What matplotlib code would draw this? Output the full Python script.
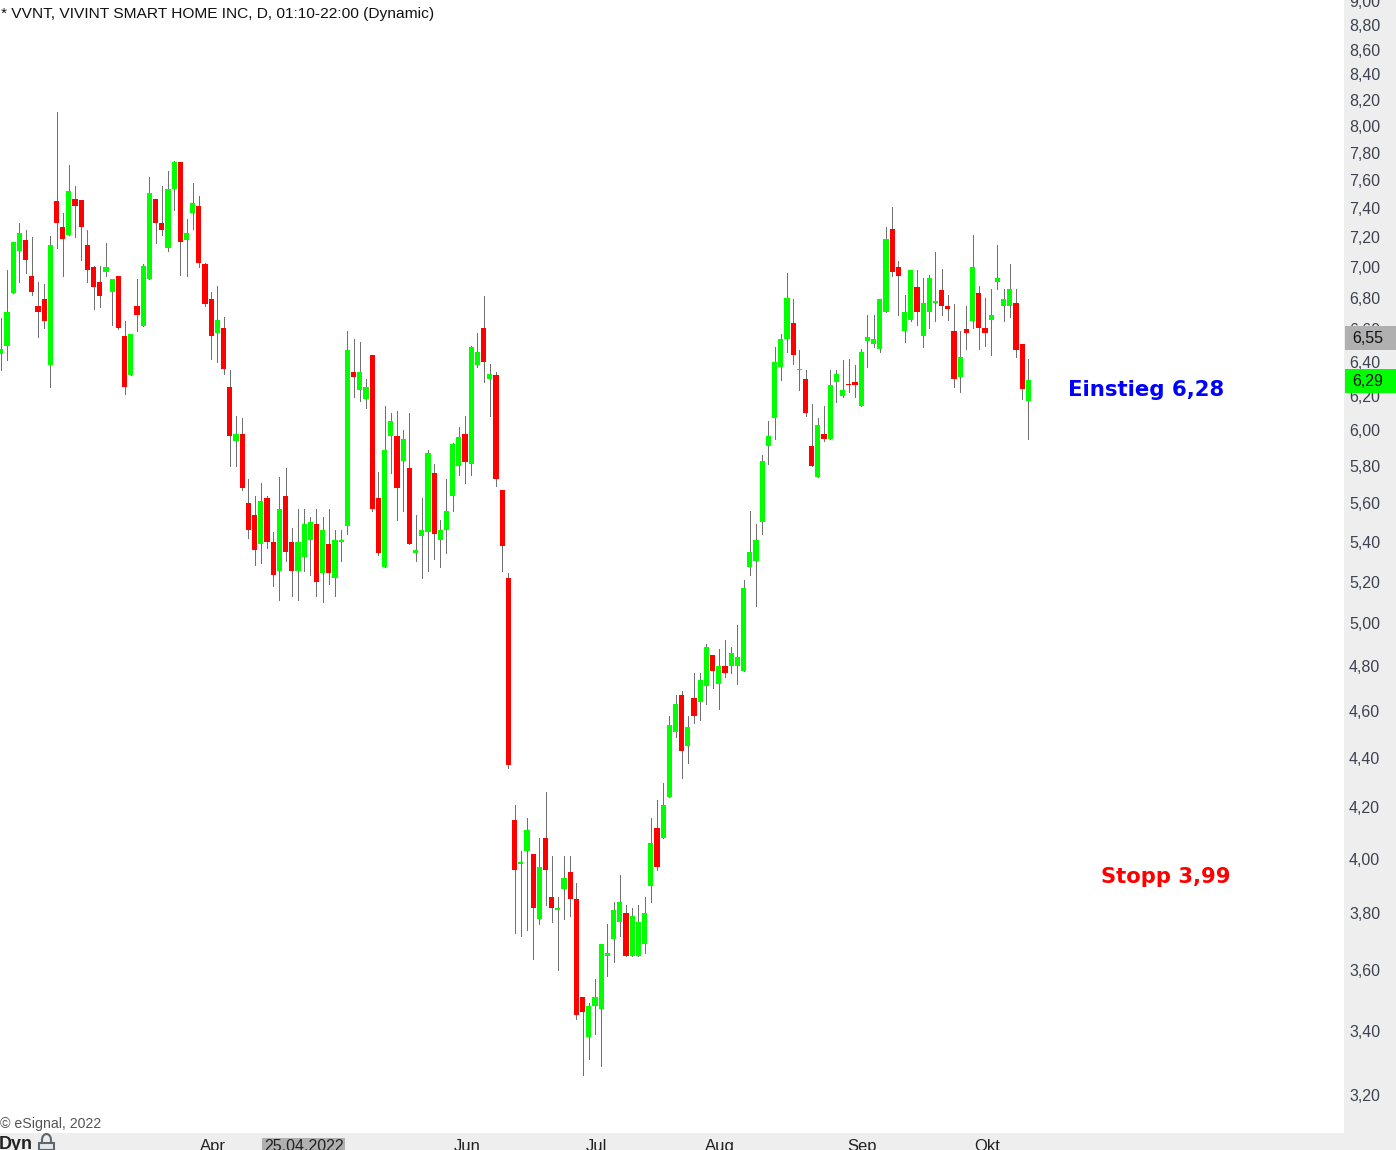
"""VVNT daily candles (eSignal style), log price axis, saved as out.png."""
import numpy as np
import matplotlib
matplotlib.use('Agg')
import matplotlib.pyplot as plt
from matplotlib.patches import Rectangle, Arc
from matplotlib.transforms import blended_transform_factory

plt.rcParams['font.family'] = ['Liberation Sans', 'DejaVu Sans']

opens = [6.45, 6.50, 6.83, 7.11, 7.18, 6.94, 6.75, 6.79, 6.38, 7.45,
         7.27, 7.22, 7.47, 7.46, 7.15, 7.00, 6.90, 6.97, 6.84, 6.94,
         6.56, 6.32, 6.75, 6.62, 6.92, 7.47, 7.30, 7.13, 7.54, 7.73,
         7.18, 7.37, 7.42, 7.02, 6.79, 6.58, 6.61, 6.25, 5.94, 5.98,
         5.60, 5.54, 5.39, 5.63, 5.40, 5.25, 5.64, 5.40, 5.25, 5.32,
         5.41, 5.49, 5.24, 5.39, 5.22, 5.40, 5.48, 6.34, 6.23, 6.18,
         6.44, 5.63, 5.27, 5.97, 5.97, 5.83, 5.79, 5.34, 5.43, 5.45,
         5.76, 5.41, 5.46, 5.64, 5.80, 5.98, 5.81, 6.38, 6.61, 6.30,
         6.32, 5.67, 5.22, 4.15, 3.98, 4.03, 4.02, 3.78, 4.08, 3.86,
         3.81, 3.89, 3.95, 3.85, 3.51, 3.38, 3.48, 3.47, 3.65, 3.71,
         3.77, 3.80, 3.65, 3.65, 3.69, 3.90, 4.12, 4.08, 4.24, 4.51,
         4.67, 4.45, 4.66, 4.64, 4.71, 4.85, 4.72, 4.80, 4.80, 4.80,
         4.78, 5.27, 5.30, 5.50, 5.91, 6.07, 6.37, 6.54, 6.64, 6.35,
         6.30, 5.91, 5.74, 5.98, 5.95, 6.28, 6.20, 6.27, 6.28, 6.14,
         6.53, 6.51, 6.48, 6.71, 7.26, 7.00, 6.59, 6.66, 6.87, 6.56,
         6.71, 6.77, 6.85, 6.75, 6.59, 6.31, 6.60, 6.65, 6.83, 6.61,
         6.66, 6.90, 6.75, 6.75, 6.77, 6.51, 6.17]
closes = [6.48, 6.71, 7.17, 7.23, 7.05, 6.84, 6.71, 6.65, 7.15, 7.30,
          7.19, 7.52, 7.42, 7.27, 6.98, 6.87, 6.81, 7.00, 6.92, 6.61,
          6.25, 6.57, 6.69, 7.01, 7.51, 7.30, 7.25, 7.54, 7.73, 7.17,
          7.23, 7.44, 7.03, 6.76, 6.56, 6.66, 6.36, 5.97, 5.98, 5.68,
          5.46, 5.36, 5.61, 5.40, 5.23, 5.57, 5.35, 5.25, 5.40, 5.49,
          5.50, 5.20, 5.46, 5.24, 5.41, 5.41, 6.47, 6.31, 6.34, 6.25,
          5.57, 5.34, 5.89, 6.05, 5.68, 5.95, 5.39, 5.36, 5.46, 5.87,
          5.44, 5.46, 5.56, 5.92, 5.96, 5.82, 6.49, 6.46, 6.40, 6.33,
          5.73, 5.38, 4.37, 3.96, 3.99, 4.11, 3.82, 3.97, 3.96, 3.82,
          3.82, 3.93, 3.85, 3.45, 3.46, 3.48, 3.51, 3.69, 3.66, 3.81,
          3.84, 3.65, 3.79, 3.77, 3.80, 4.06, 3.97, 4.21, 4.54, 4.63,
          4.43, 4.53, 4.58, 4.74, 4.89, 4.78, 4.80, 4.77, 4.86, 4.84,
          5.17, 5.35, 5.41, 5.83, 5.97, 6.40, 6.54, 6.80, 6.44, 6.36,
          6.10, 5.80, 6.03, 5.95, 6.26, 6.33, 6.23, 6.26, 6.26, 6.46,
          6.55, 6.54, 6.79, 7.19, 6.97, 6.94, 6.71, 6.98, 6.71, 6.77,
          6.93, 6.78, 6.75, 6.73, 6.30, 6.43, 6.58, 7.00, 6.61, 6.58,
          6.69, 6.93, 6.79, 6.86, 6.47, 6.24, 6.29]
highs = [6.67, 6.98, 7.17, 7.30, 7.25, 7.20, 6.90, 6.89, 7.21, 8.11,
         7.37, 7.71, 7.56, 7.46, 7.25, 7.01, 7.01, 7.16, 6.92, 6.94,
         6.65, 6.57, 6.92, 7.02, 7.62, 7.47, 7.56, 7.67, 7.74, 7.73,
         7.33, 7.58, 7.49, 7.03, 6.84, 6.88, 6.68, 6.35, 6.08, 6.07,
         5.73, 5.64, 5.71, 5.64, 5.45, 5.74, 5.79, 5.47, 5.57, 5.57,
         5.53, 5.57, 5.53, 5.57, 5.46, 5.46, 6.59, 6.54, 6.52, 6.30,
         6.44, 5.77, 6.14, 6.10, 6.11, 6.00, 6.10, 5.54, 5.63, 5.89,
         5.81, 5.51, 5.73, 5.93, 6.02, 6.08, 6.50, 6.58, 6.81, 6.39,
         6.34, 5.67, 5.24, 4.21, 4.03, 4.16, 4.02, 4.08, 4.26, 4.01,
         3.86, 4.01, 4.01, 3.91, 3.51, 3.49, 3.57, 3.69, 3.76, 3.84,
         3.94, 3.83, 3.82, 3.83, 3.86, 4.16, 4.23, 4.30, 4.58, 4.67,
         4.69, 4.58, 4.77, 4.77, 4.90, 4.85, 4.88, 4.92, 4.89, 4.99,
         5.21, 5.56, 5.49, 5.86, 6.05, 6.49, 6.57, 6.96, 6.79, 6.47,
         6.35, 6.15, 6.07, 6.14, 6.35, 6.35, 6.41, 6.42, 6.38, 6.48,
         6.69, 6.69, 6.79, 7.27, 7.41, 7.04, 6.82, 6.98, 6.98, 6.93,
         6.95, 7.10, 6.99, 6.82, 6.76, 6.59, 6.75, 7.22, 6.88, 6.80,
         6.86, 7.15, 6.86, 7.02, 6.86, 6.51, 6.42]
lows = [6.35, 6.41, 6.83, 6.90, 6.96, 6.82, 6.55, 6.61, 6.25, 7.13,
        6.94, 7.22, 7.20, 7.05, 6.90, 6.73, 6.74, 6.94, 6.63, 6.60,
        6.21, 6.32, 6.59, 6.62, 6.92, 7.16, 7.22, 7.11, 7.39, 6.95,
        6.94, 7.26, 7.00, 6.75, 6.42, 6.40, 6.33, 5.80, 5.80, 5.67,
        5.42, 5.28, 5.29, 5.37, 5.18, 5.11, 5.30, 5.13, 5.11, 5.25,
        5.23, 5.13, 5.10, 5.19, 5.13, 5.30, 5.44, 6.19, 6.17, 6.13,
        5.56, 5.33, 5.27, 5.76, 5.51, 5.56, 5.39, 5.30, 5.22, 5.25,
        5.31, 5.27, 5.34, 5.56, 5.75, 5.71, 5.75, 6.37, 6.28, 6.08,
        5.69, 5.25, 4.36, 3.73, 3.72, 3.74, 3.64, 3.76, 3.83, 3.77,
        3.60, 3.78, 3.79, 3.44, 3.26, 3.31, 3.39, 3.29, 3.58, 3.63,
        3.72, 3.65, 3.65, 3.65, 3.66, 3.84, 3.96, 4.08, 4.24, 4.49,
        4.32, 4.38, 4.55, 4.56, 4.63, 4.70, 4.61, 4.75, 4.77, 4.72,
        4.78, 5.23, 5.08, 5.44, 5.81, 5.95, 6.29, 6.46, 6.39, 6.23,
        6.08, 5.80, 5.74, 5.94, 5.95, 6.16, 6.19, 6.22, 6.19, 6.14,
        6.37, 6.49, 6.46, 6.71, 6.94, 6.69, 6.52, 6.65, 6.63, 6.49,
        6.61, 6.65, 6.69, 6.66, 6.25, 6.22, 6.48, 6.61, 6.48, 6.50,
        6.44, 6.86, 6.65, 6.68, 6.43, 6.18, 5.95]

price_ticks = [9.0, 8.8, 8.6, 8.4, 8.2, 8.0, 7.8, 7.6, 7.4, 7.2, 7.0, 6.8, 6.6, 6.4, 6.2,
               6.0, 5.8, 5.6, 5.4, 5.2, 5.0, 4.8, 4.6, 4.4, 4.2, 4.0, 3.8, 3.6, 3.4, 3.2]
month_pos = [34.2, 75.3, 96.3, 116.2, 139.1, 159.4]
month_labels = ['Apr', 'Jun', 'Jul', 'Aug', 'Sep', 'Okt']

W, H = 1396, 1150
PANEL_X, PANEL_Y = 1344, 1133   # plot area in pixels
STEP = 6.19                     # pixels per bar
K = 1057.5                      # pixels per ln(price)

def fx(x):
    return x / W

def fy(y):
    return 1 - y / H

fig = plt.figure(figsize=(W/100, H/100), dpi=100, facecolor='#eeeeee')
ax = fig.add_axes([0, fy(PANEL_Y), fx(PANEL_X), 1 - fy(PANEL_Y)], facecolor='white')
ax.set_yscale('log')
ax.set_ylim(3.2*np.exp((1095-PANEL_Y)/K), 3.2*np.exp(1095/K))
ax.set_xlim(-0.8/STEP, (PANEL_X-0.8)/STEP)

opens, closes = np.array(opens), np.array(closes)
highs, lows = np.array(highs), np.array(lows)
xs = np.arange(len(opens))
up = closes > opens
ax.vlines(xs, lows, highs, color='#707070', lw=0.55, zorder=2, antialiased=False)
ax.bar(xs[up], (closes-opens)[up], bottom=opens[up], width=0.84, color='#00ff00',
       zorder=3, antialiased=False, linewidth=0)
ax.bar(xs[~up], (opens-closes)[~up], bottom=closes[~up], width=0.84, color='#ff0000',
       zorder=3, antialiased=False, linewidth=0)

for s in ax.spines.values():
    s.set_visible(False)
ax.yaxis.tick_right()
ax.yaxis.set_minor_locator(plt.NullLocator())
ax.set_yticks(price_ticks)
ax.set_yticklabels([f'{p:.2f}'.replace('.', ',') for p in price_ticks])
ax.yaxis.set_minor_formatter(plt.NullFormatter())
ax.tick_params(axis='y', length=0, pad=3.6, labelsize=11.5, labelcolor='#3c4250')
ax.set_xticks(month_pos)
ax.set_xticklabels(month_labels)
ax.tick_params(axis='x', length=0, pad=4.2, labelsize=12, labelcolor='#222222')

# last-price boxes over the price scale, nudged 1 px down like the reference
tf = blended_transform_factory(ax.transAxes, ax.transData)
for price, colour in [(6.55, '#b0b0b0'), (6.29, '#00ff00')]:
    lo, hi = price*np.exp(-13/K), price*np.exp(11/K)
    ax.add_patch(Rectangle((1345/PANEL_X, lo), 60/PANEL_X, hi-lo, transform=tf,
                           facecolor=colour, edgecolor='none', clip_on=False, zorder=6))
    ax.text(1352/PANEL_X, price*np.exp(-1.5/K), f'{price:.2f}'.replace('.', ','), transform=tf,
            ha='left', va='center', fontsize=11.5, color='#111111', zorder=7)

# date box on the time scale
fig.add_artist(Rectangle((fx(262), fy(1150)), 83/W, 12/H, transform=fig.transFigure,
                         facecolor='#b0b0b0', edgecolor='none'))
fig.text(fx(304), fy(1139), '25.04.2022', ha='center', va='top', fontsize=11.5,
         color='#222222')

fig.text(fx(1), fy(14), '* VVNT, VIVINT SMART HOME INC, D, 01:10-22:00 (Dynamic)',
         ha='left', va='center', fontsize=11.15, color='#111111')
fig.text(fx(0), fy(1124), '\u00a9 eSignal, 2022', ha='left', va='center', fontsize=10.2,
         color='#555555')
fig.text(fx(-1), fy(1136), 'Dyn', ha='left', va='top', fontsize=13, fontweight='bold',
         color='#222222')
fig.text(fx(1068.5), fy(390), 'Einstieg 6,28', ha='left', va='center', fontsize=15.3,
         fontweight='bold', family='DejaVu Sans', color='#0000ff')
fig.text(fx(1101), fy(877), 'Stopp 3,99', ha='left', va='center', fontsize=15.2,
         fontweight='bold', family='DejaVu Sans', color='#ff0000')

# padlock next to Dyn
fig.add_artist(Rectangle((fx(39), fy(1150)), 15/W, 7/H, transform=fig.transFigure,
                         facecolor='#e4e6ea', edgecolor='#5f6672', lw=1.5))
fig.add_artist(Rectangle((fx(42), fy(1143)), 0, 3/H, transform=fig.transFigure,
                         edgecolor='#5f6672', lw=1.5))
fig.add_artist(Rectangle((fx(51), fy(1143)), 0, 3/H, transform=fig.transFigure,
                         edgecolor='#5f6672', lw=1.5))
fig.add_artist(Arc((fx(46.5), fy(1140)), 9/W, 12/H, theta1=0, theta2=180,
                   transform=fig.transFigure, edgecolor='#5f6672', lw=1.5))

fig.savefig('out.png', dpi=100, facecolor=fig.get_facecolor())
